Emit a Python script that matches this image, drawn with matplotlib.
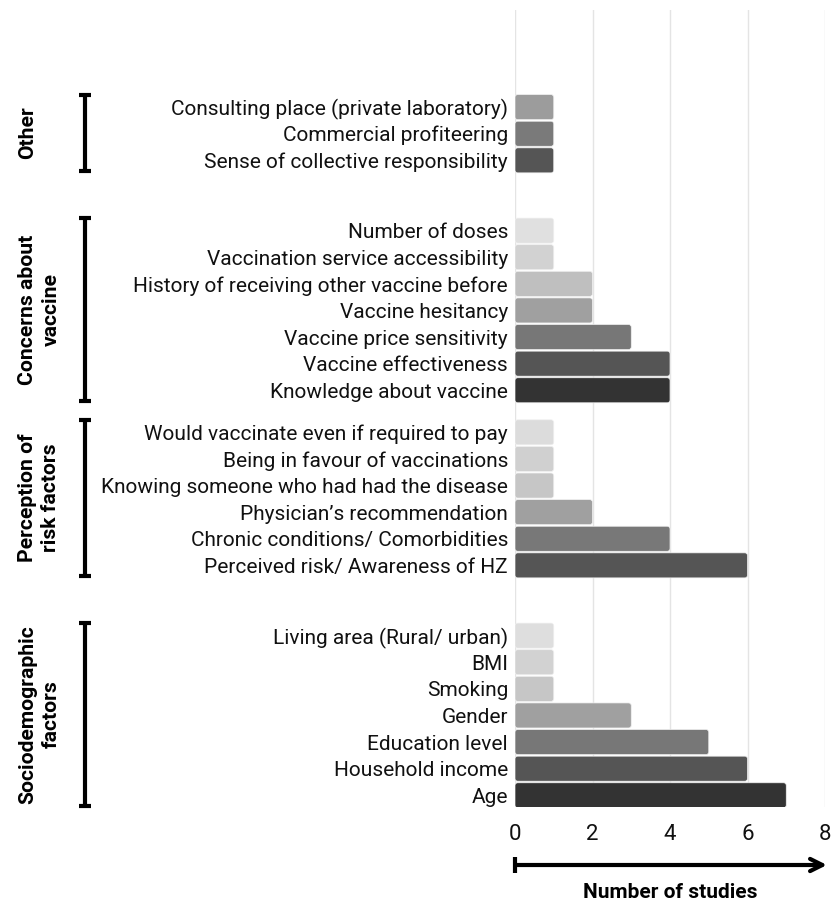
import matplotlib
matplotlib.use("Agg")
import matplotlib.pyplot as plt
from matplotlib.patches import FancyBboxPatch
from matplotlib.transforms import blended_transform_factory

plt.rcParams['font.family'] = ['Roboto', 'DejaVu Sans']

# groups, top to bottom
group_names = ["Other", "Concerns about\nvaccine", "Perception of\nrisk factors", "Sociodemographic\nfactors"]

other_labels = ["Consulting place (private laboratory)", "Commercial profiteering",
                "Sense of collective responsibility"]
other_values = [1, 1, 1]
other_colors = ["#9c9c9c", "#7a7a7a", "#555555"]

concern_labels = ["Number of doses", "Vaccination service accessibility",
                  "History of receiving other vaccine before", "Vaccine hesitancy",
                  "Vaccine price sensitivity", "Vaccine effectiveness", "Knowledge about vaccine"]
concern_values = [1, 1, 2, 2, 3, 4, 4]
concern_colors = ["#e0e0e0", "#d2d2d2", "#bfbfbf", "#a0a0a0", "#777777", "#555555", "#333333"]

risk_labels = ["Would vaccinate even if required to pay", "Being in favour of vaccinations",
               "Knowing someone who had had the disease", "Physician\u2019s recommendation",
               "Chronic conditions/ Comorbidities", "Perceived risk/ Awareness of HZ"]
risk_values = [1, 1, 1, 2, 4, 6]
risk_colors = ["#dcdcdc", "#d0d0d0", "#c6c6c6", "#a0a0a0", "#787878", "#555555"]

socio_labels = ["Living area (Rural/ urban)", "BMI", "Smoking", "Gender", "Education level",
                "Household income", "Age"]
socio_values = [1, 1, 1, 3, 5, 6, 7]
socio_colors = ["#dedede", "#d2d2d2", "#c6c6c6", "#a0a0a0", "#777777", "#555555", "#333333"]

groups = [
    (other_labels, other_values, other_colors),
    (concern_labels, concern_values, concern_colors),
    (risk_labels, risk_values, risk_colors),
    (socio_labels, socio_values, socio_colors),
]
gaps = [0, 2.64, 1.58, 2.64]

W, H = 832, 907
fig = plt.figure(figsize=(W / 100, H / 100), dpi=100)
ax = fig.add_axes([515 / W, 1 - 807 / H, 310 / W, (807 - 10) / H])

positions, labels, spans = [], [], []
pos = 0.0
for (labs, vals, cols), gap in zip(groups, gaps):
    pos += gap
    ys = [pos + i for i in range(len(labs))]
    bars = ax.barh(ys, vals, height=0.94, color=cols, zorder=3)
    # swap the square bars for slightly rounded ones
    for b in bars:
        x0, y0, w, h = b.get_x(), b.get_y(), b.get_width(), b.get_height()
        b.set_visible(False)
        ax.add_patch(FancyBboxPatch((x0, y0), w, h,
                                    boxstyle="round,pad=0,rounding_size=0.07",
                                    mutation_aspect=1.45, facecolor=b.get_facecolor(),
                                    edgecolor="#f0f0f0", linewidth=0.5, zorder=3))
    positions += ys
    labels += labs
    spans.append((ys[0], ys[-1]))
    pos = ys[-1]

ax.set_yticks(positions)
ax.set_yticklabels(labels, fontsize=15.0, color="#111111")
ax.tick_params(axis="y", length=0, pad=5)
ax.set_ylim(26.3, -3.65)

ax.set_xlim(0, 8)
ax.set_xticks([0, 2, 4, 6, 8])
ax.tick_params(axis="x", length=0, pad=12, labelsize=16, labelcolor="#111111")
ax.grid(axis="x", color="#e4e4e4", linewidth=1, zorder=0)
for s in ax.spines.values():
    s.set_visible(False)

# group brackets and labels
tr = blended_transform_factory(fig.transFigure, ax.transData)
bx = 85 / W
cap = 6 / W
for name, (y0, y1) in zip(group_names, spans):
    top, bot = y0 - 0.47, y1 + 0.4
    ax.plot([bx, bx], [top, bot], color="black", lw=3, transform=tr, clip_on=False,
            solid_capstyle="butt")
    for yy in (top, bot):
        ax.plot([bx - cap, bx + cap], [yy, yy], color="black", lw=3, transform=tr,
                clip_on=False, solid_capstyle="butt")
    ax.text(18 / W, (top + bot) / 2, name, transform=tr, rotation=90, ha="left",
            va="center", multialignment="center", fontsize=15.2, fontweight="bold",
            linespacing=1.3)

# axis arrow under the chart
tx = blended_transform_factory(ax.transData, fig.transFigure)
ay = 1 - 865 / H
ax.annotate("", xy=(8.05, ay), xytext=(0, ay), xycoords=tx, textcoords=tx,
            arrowprops=dict(arrowstyle="->", lw=3, color="black",
                            mutation_scale=22, shrinkA=0, shrinkB=0))
ax.plot([0, 0], [1 - 857 / H, 1 - 873 / H], color="black", lw=3, transform=tx,
        clip_on=False, solid_capstyle="butt")
fig.text((515 + 825) / 2 / W, 1 - 893 / H, "Number of studies", ha="center", va="center",
         fontsize=15, fontweight="bold")

fig.savefig("out.png", dpi=100)
